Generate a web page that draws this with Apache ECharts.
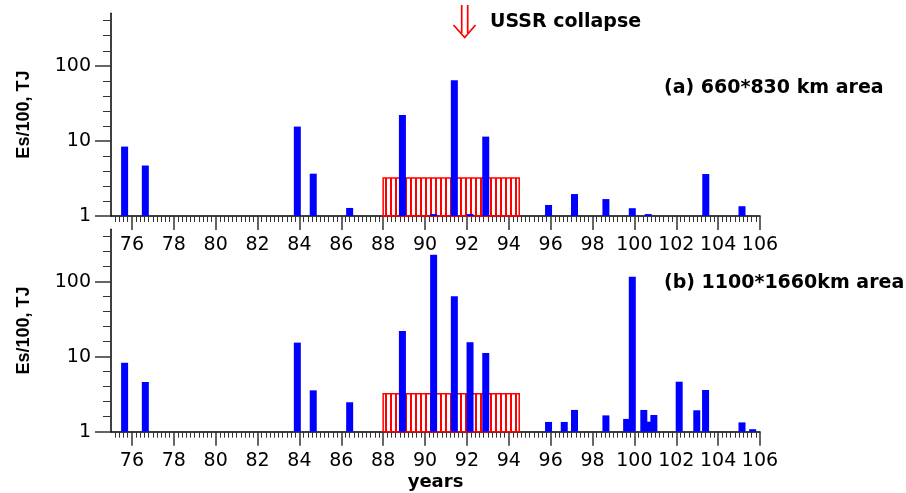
<!DOCTYPE html>
<html>
<head>
<meta charset="utf-8">
<script src="https://cdn.jsdelivr.net/npm/echarts@6/dist/echarts.min.js"></script>
<style>
html,body{margin:0;padding:0;background:#fff;}
#chart{width:906px;height:493px;}
</style>
</head>
<body>
<div id="chart"></div>
<script>
// ---- data ----
const yearsA  = [75.65, 76.64, 83.9, 84.66, 86.4, 88.92, 90.41, 91.40, 92.15, 92.9, 95.9, 97.14, 98.64, 99.9, 100.66, 103.41, 105.14];
const valuesA = [8.4,   4.7,   15.5, 3.66,  1.28, 22.1,  1.06,  64,    1.06,  11.4, 1.4,  1.96,  1.68,  1.27, 1.06,   3.62,   1.35];

const yearsB  = [75.65, 76.64, 83.9, 84.66, 86.4, 88.92, 90.41, 91.40, 92.15, 92.9, 95.9, 96.65, 97.14, 98.64, 99.63, 99.9, 100.45, 100.66, 100.93, 102.14, 102.98, 103.4, 105.14, 105.65];
const valuesB = [8.3,   4.6,   15.4, 3.56,  2.47, 22,    229,   63.8,  15.6,  11.2, 1.35, 1.35,  1.95,  1.65,  1.48,  116,  1.95,   1.36,   1.67,   4.64,   1.93,   3.6,   1.33,   1.08];

const crisisPeriod = [88, 94.5];   // hatched box, years
const crisisLevel  = 3.2;          // hatched box height, Es/100 TJ

const xMajorTicks = [76, 78, 80, 82, 84, 86, 88, 90, 92, 94, 96, 98, 100, 102, 104, 106];
const yMajorTicks = [1, 10, 100];
const xRange = [75, 106];
const yRange = [1, 500];

const panelLabels = ['(a) 660*830 km area', '(b) 1100*1660km area'];
const yTitle = 'Es/100, TJ';
const xTitle = 'years';
const eventLabel = 'USSR collapse';

// ---- helpers ----
const lg = v => Math.log10(v);
const yMin = lg(yRange[0]);
const yMax = Math.round(lg(yRange[1]) * 100) / 100;
const xMinorTicks = [];
for (let k = xRange[0] * 5 + 1; k < xRange[1] * 5; k++) {
  if (k % 10 !== 0) xMinorTicks.push(k / 5);
}
const yMinorTicks = [];
for (let k = 1; k < yMax * 5; k++) {
  if (k % 5 !== 0) yMinorTicks.push(k / 5);
}
const yMajorLog = yMajorTicks.map(lg);

const hatch = document.createElement('canvas');
hatch.width = 5; hatch.height = 10;
const hctx = hatch.getContext('2d');
hctx.fillStyle = '#ff0000';
hctx.fillRect(0, 0, 2, 10);

const tickColor = '#333';
const fontNum = 'DejaVu Sans';

const grids = [
  {left: 111, right: 146, top: 13.2, bottom: 277, outerBoundsMode: 'none', containLabel: false},
  {left: 111, right: 146, top: 229.2, bottom: 61.3, outerBoundsMode: 'none', containLabel: false}
];

const xAxes = [], yAxes = [], series = [];
[0, 1].forEach(i => {
  xAxes.push({
    type: 'value', gridIndex: i, min: xRange[0], max: xRange[1], position: 'bottom',
    axisLine: {show: true, onZero: false, lineStyle: {color: '#000', width: 1.5}},
    axisTick: {show: true, customValues: xMajorTicks, length: 14, lineStyle: {color: tickColor, width: 1.5}},
    axisLabel: {show: true, customValues: xMajorTicks, margin: 20, fontSize: 19, fontFamily: fontNum, color: '#000'},
    splitLine: {show: false},
    name: i === 1 ? xTitle : '',
    nameLocation: 'middle', nameGap: 42, nameMoveOverlap: false,
    nameTextStyle: {fontSize: 18, fontWeight: 'bold', fontFamily: fontNum, color: '#000'}
  });
  xAxes.push({
    type: 'value', gridIndex: i, min: xRange[0], max: xRange[1], position: 'bottom',
    axisLine: {show: false, onZero: false},
    axisTick: {show: true, customValues: xMinorTicks, length: 6, lineStyle: {color: tickColor, width: 1}},
    axisLabel: {show: false},
    splitLine: {show: false}
  });
  yAxes.push({
    type: 'value', gridIndex: i, min: yMin, max: yMax, position: 'left',
    axisLine: {show: true, onZero: false, lineStyle: {color: '#000', width: 1.5}},
    axisTick: {show: true, customValues: yMajorLog, length: 16, lineStyle: {color: tickColor, width: 1.5}},
    axisLabel: {show: true, customValues: yMajorLog, margin: 20, fontSize: 19, fontFamily: fontNum, color: '#000',
      formatter: v => String(Math.round(Math.pow(10, v)))},
    splitLine: {show: false},
    name: yTitle, nameLocation: 'middle', nameGap: 78, nameMoveOverlap: false,
    nameTextStyle: {fontSize: 18, fontWeight: 'bold', fontFamily: 'Liberation Sans', color: '#000'}
  });
  yAxes.push({
    type: 'value', gridIndex: i, min: yMin, max: yMax, position: 'left',
    axisLine: {show: false, onZero: false},
    axisTick: {show: true, customValues: yMinorTicks, length: 8, lineStyle: {color: tickColor, width: 1}},
    axisLabel: {show: false},
    splitLine: {show: false}
  });
  const yrs = i === 0 ? yearsA : yearsB;
  const vals = i === 0 ? valuesA : valuesB;
  series.push({
    type: 'bar', xAxisIndex: 2 * i, yAxisIndex: 2 * i,
    barWidth: 7, z: 3,
    itemStyle: {color: '#0000ff'},
    data: yrs.map((x, k) => [x, lg(vals[k])]),
    markArea: {
      silent: true, z: 1,
      label: {show: false},
      itemStyle: {color: {image: hatch, repeat: 'repeat'}, borderColor: '#ff0000', borderWidth: 1.5, opacity: 1},
      data: [[{coord: [crisisPeriod[0], yMin]}, {coord: [crisisPeriod[1], lg(crisisLevel)]}]]
    }
  });
});

const option = {
  animation: false,
  backgroundColor: '#fff',
  grid: grids,
  xAxis: xAxes,
  yAxis: yAxes,
  series: series,
  graphic: [
    {type: 'text', x: 664, y: 88, style: {text: panelLabels[0], font: 'bold 19px "DejaVu Sans"', fill: '#000', verticalAlign: 'middle'}},
    {type: 'text', x: 664, y: 283, style: {text: panelLabels[1], font: 'bold 19px "DejaVu Sans"', fill: '#000', verticalAlign: 'middle'}},
    {type: 'text', x: 490, y: 22, style: {text: eventLabel, font: 'bold 19px "DejaVu Sans"', fill: '#000', verticalAlign: 'middle'}},
    {type: 'line', shape: {x1: 461.7, y1: 5, x2: 461.7, y2: 33}, style: {stroke: '#ff0000', lineWidth: 1.7}},
    {type: 'line', shape: {x1: 467.7, y1: 5, x2: 467.7, y2: 33}, style: {stroke: '#ff0000', lineWidth: 1.7}},
    {type: 'polyline', shape: {points: [[453.5, 25], [464.7, 37.5], [475.5, 25]]}, style: {stroke: '#ff0000', lineWidth: 1.7, fill: null}}
  ]
};

const chart = echarts.init(document.getElementById('chart'), null, {renderer: 'canvas'});
chart.setOption(option);
</script>
</body>
</html>
